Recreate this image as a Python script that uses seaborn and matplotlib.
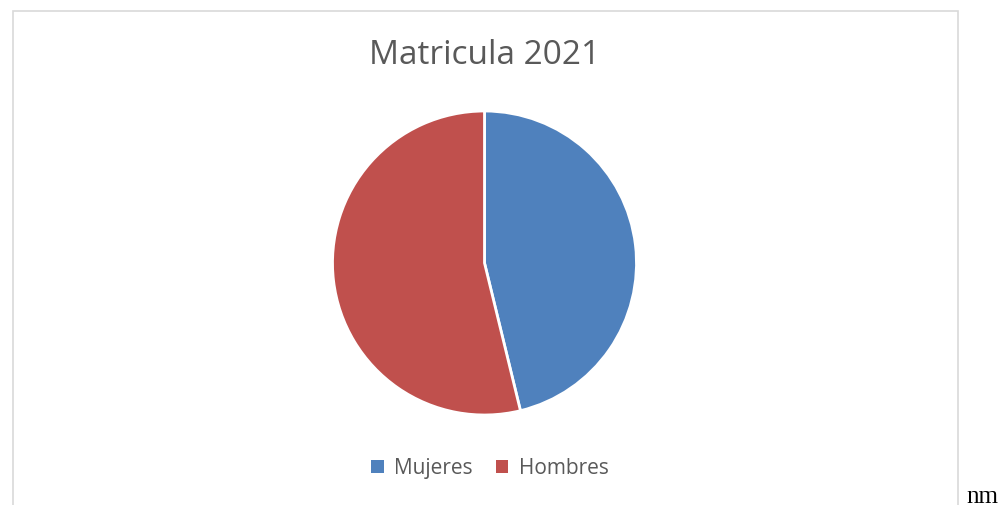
import matplotlib
matplotlib.use("Agg")
import matplotlib.pyplot as plt
import seaborn as sns
from matplotlib.patches import Rectangle, Patch

# --- data ---
labels = ["Mujeres", "Hombres"]
shares = [46.2, 53.8]
title = "Matricula 2021"
colors = ["#4F81BD", "#C0504D"]

sns.set_theme(style="white")
plt.rcParams["font.family"] = ["Open Sans", "DejaVu Sans"]

W, H = 1003, 506
fig = plt.figure(figsize=(W / 100, H / 100), dpi=100)
fig.patch.set_facecolor("white")

# chart frame (Excel-like), bottom edge cut off by the page
fig.patches.append(Rectangle((13 / W, -0.05), (958 - 13) / W, 1.05 - 12 / H,
                             transform=fig.transFigure, fill=False,
                             edgecolor="#D9D9D9", linewidth=1.2))

# pie axes: center (484.5, 264) px, radius 152 px
cx, cy, r = 484.5, 264, 152
ax = fig.add_axes([(cx - r) / W, (H - cy - r) / H, 2 * r / W, 2 * r / H])
ax.pie(shares, colors=colors, startangle=90, counterclock=False,
       wedgeprops=dict(edgecolor="white", linewidth=2))
ax.set_xlim(-1, 1)
ax.set_ylim(-1, 1)
ax.set_aspect("equal")
ax.axis("off")

fig.text(cx / W, 1 - 55 / H, title, ha="center", va="center",
         fontsize=24, color="#595959")

handles = [Patch(facecolor=c, edgecolor="none") for c in colors]
fig.legend(handles, labels, loc="center", bbox_to_anchor=(490 / W, 1 - 469 / H),
           ncol=2, frameon=False, fontsize=15, handlelength=0.6, handleheight=0.6,
           handletextpad=0.5, columnspacing=1.1, labelcolor="#595959")

fig.text(966 / W, 1 - 503 / H, "nm", ha="left", va="baseline", fontsize=18,
         color="black", family=["Liberation Serif", "DejaVu Serif"])

fig.savefig("out.png", dpi=100)
